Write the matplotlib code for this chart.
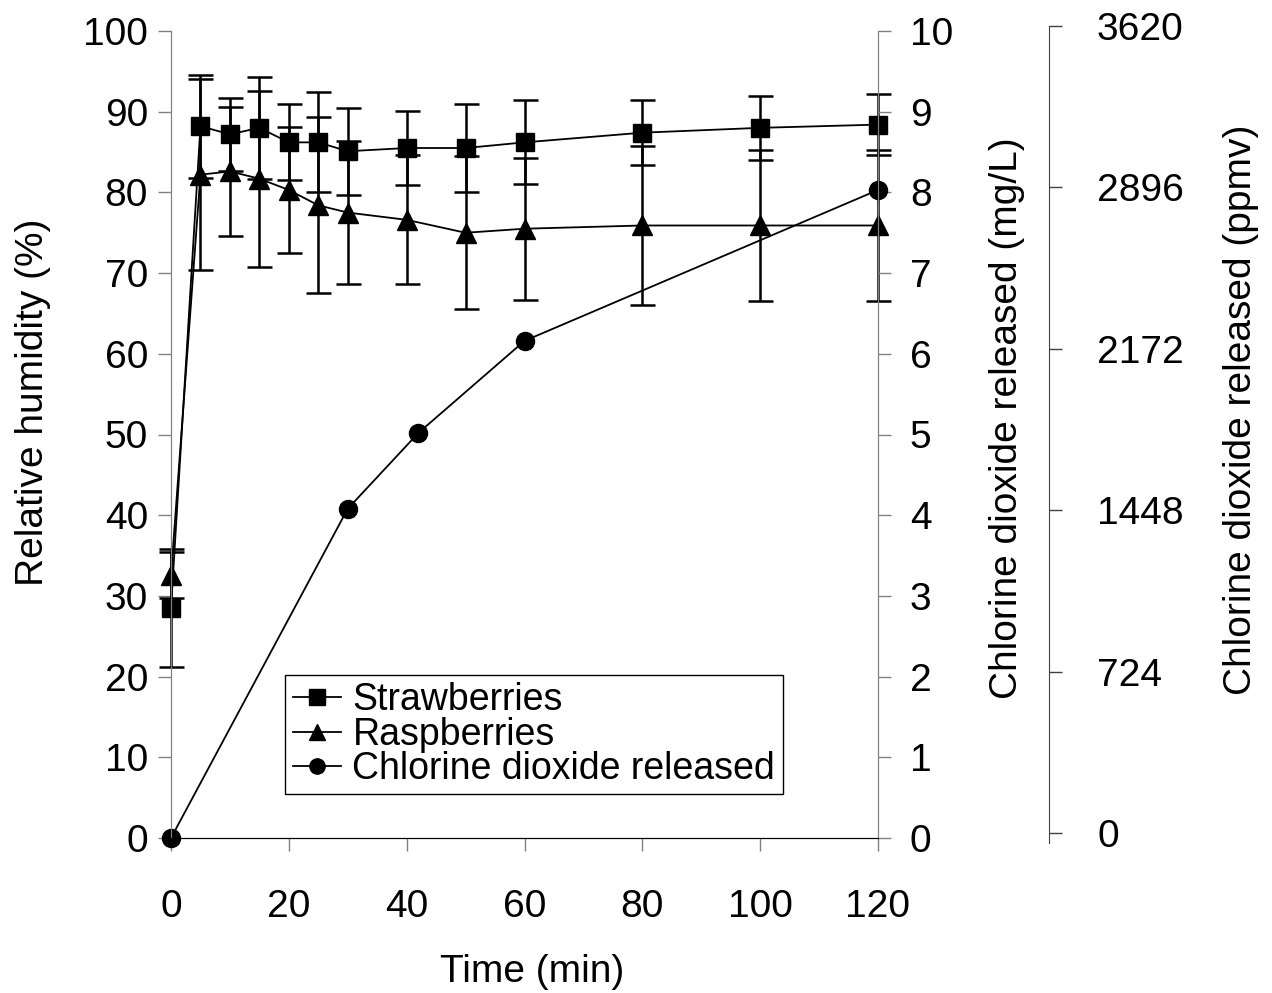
import matplotlib.pyplot as plt

plt.rcParams['font.family'] = ['Liberation Sans', 'DejaVu Sans']

# time points (min)
time_rh = [0, 5, 10, 15, 20, 25, 30, 40, 50, 60, 80, 100, 120]
# relative humidity (%) and error bars
rh_straw = [28.5, 88.2, 87.2, 88.0, 86.2, 86.2, 85.1, 85.5, 85.5, 86.2, 87.4, 88.0, 88.4]
err_straw = [7.3, 6.4, 4.5, 6.3, 4.7, 6.2, 5.4, 4.6, 5.4, 5.2, 4.0, 4.0, 3.8]
rh_rasp = [32.6, 82.2, 82.6, 81.7, 80.3, 78.4, 77.5, 76.6, 75.0, 75.5, 75.9, 75.9, 75.9]
err_rasp = [2.8, 11.8, 8.0, 10.9, 7.8, 10.9, 8.9, 8.0, 9.5, 8.8, 9.9, 9.4, 9.4]
# chlorine dioxide released (mg/L)
time_clo2 = [0, 30, 42, 60, 120]
clo2_mgl = [0.0, 4.08, 5.02, 6.16, 8.03]

ppmv_ticks = [0, 724, 1448, 2172, 2896, 3620]

W, H = 1272, 993
fig = plt.figure(figsize=(W / 100, H / 100), dpi=100)
ax = fig.add_axes([171 / W, 1 - 838 / H, 707 / W, 807 / H])
ax2 = ax.twinx()

fs = 28
ebkw = dict(color='black', ecolor='black', lw=1.3, elinewidth=1.8,
            capsize=9, capthick=1.8, clip_on=False)
eb1 = ax.errorbar(time_rh, rh_straw, yerr=err_straw, fmt='s-', ms=13, **ebkw)
eb2 = ax.errorbar(time_rh, rh_rasp, yerr=err_rasp, fmt='^-', ms=14, **ebkw)
for eb in (eb1, eb2):
    for art in eb.lines[1] + eb.lines[2]:
        art.set_clip_on(False)
l3, = ax2.plot(time_clo2, clo2_mgl, 'o-', color='black', ms=13, lw=1.3, clip_on=False)

ax.set_xlim(0, 120)
ax.set_ylim(0, 100)
ax2.set_ylim(0, 10)
ax.set_xticks(range(0, 121, 20))
ax.set_yticks(range(0, 101, 10))
ax2.set_yticks(range(0, 11))

for a in (ax, ax2):
    a.spines['top'].set_visible(False)
    a.spines['left'].set_color('#808080')
    a.spines['right'].set_color('#808080')
    a.spines['bottom'].set_color('black')
ax.tick_params(axis='y', direction='out', length=9.5, width=1, color='#808080',
               labelsize=fs, pad=7)
ax.tick_params(axis='x', direction='out', length=9.5, width=1, color='#808080',
               labelsize=fs, pad=27)
ax2.tick_params(axis='y', direction='out', length=9, width=1, color='#808080',
                labelsize=fs, pad=14)

# third axis (ppmv)
ax3 = fig.add_axes([1049 / W, 1 - 843 / H, 0.0001, (843 - 26) / H])
ax3.set_ylim(-43, 3620)
ax3.set_yticks(ppmv_ticks)
ax3.set_xticks([])
for s in ('top', 'bottom', 'left'):
    ax3.spines[s].set_visible(False)
ax3.spines['right'].set_color('#404040')
ax3.patch.set_visible(False)
ax3.yaxis.tick_right()
ax3.yaxis.set_label_position('right')
ax3.tick_params(axis='y', direction='out', length=9.5, width=1, color='#404040',
                labelsize=fs, pad=25)

# axis labels
ax.set_xlabel('Time (min)', fontsize=fs, va='center')
ax.xaxis.set_label_coords(532 / W, 1 - 972 / H, transform=fig.transFigure)
ax.set_ylabel('Relative humidity (%)', fontsize=fs, va='center')
ax.yaxis.set_label_coords(33 / W, 1 - 402 / H, transform=fig.transFigure)
ax2.set_ylabel('Chlorine dioxide released (mg/L)', fontsize=fs, va='center')
ax2.yaxis.set_label_coords(1007 / W, 1 - 418 / H, transform=fig.transFigure)
ax3.set_ylabel('Chlorine dioxide released (ppmv)', fontsize=fs, va='center')
ax3.yaxis.set_label_coords(1241 / W, 1 - 410 / H, transform=fig.transFigure)

leg = ax2.legend([eb1[0], eb2[0], l3],
                 ['Strawberries', 'Raspberries', 'Chlorine dioxide released'],
                 loc='upper left', bbox_to_anchor=(285 / W, 1 - 675 / H),
                 bbox_transform=fig.transFigure, borderaxespad=0,
                 fontsize=27, labelspacing=-0.05, handlelength=1.3,
                 handletextpad=0.3, borderpad=0.2, fancybox=False,
                 edgecolor='black', framealpha=1)
leg.get_frame().set_linewidth(1)
for h in leg.legend_handles:
    h.set_markersize(11)

fig.savefig('out.png', dpi=100, facecolor='white')
